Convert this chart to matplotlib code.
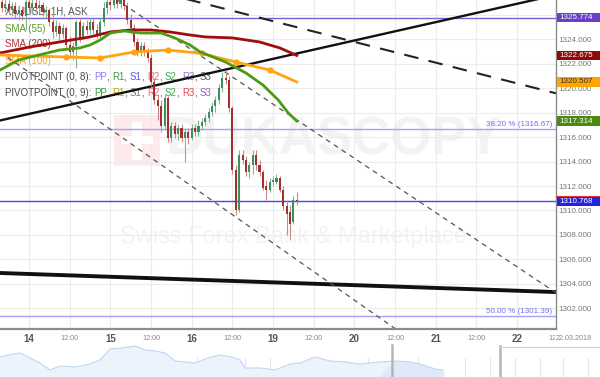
import numpy as np
import matplotlib.pyplot as plt
from matplotlib.patches import Rectangle
from matplotlib.transforms import blended_transform_factory

plt.rcParams['font.family'] = ['Liberation Sans', 'DejaVu Sans']

# hourly candles, x = hours counted from 14.03 00:00 (weekend removed)
hours = list(range(-8, 80))
opens = [1327.05, 1326.56, 1326.89, 1326.40, 1326.72, 1326.07, 1326.40, 1325.91, 1327.05, 1326.56,
         1326.97, 1326.56, 1326.80, 1326.23, 1326.40, 1325.41, 1324.60, 1325.09, 1324.43, 1324.92,
         1323.53, 1322.96, 1323.45, 1325.41, 1324.11, 1325.09, 1324.76, 1325.41, 1324.76, 1324.43,
         1325.41, 1326.56, 1327.05, 1326.80, 1327.21, 1326.89, 1327.21, 1326.72, 1325.58, 1324.92,
         1323.78, 1322.96, 1323.45, 1322.96, 1322.47, 1320.51, 1319.04, 1318.55, 1316.91, 1319.20,
         1315.93, 1316.91, 1316.26, 1316.75, 1315.93, 1316.42, 1315.93, 1316.75, 1316.42, 1316.91,
         1317.24, 1317.56, 1318.06, 1318.55, 1319.04, 1320.02, 1320.84, 1320.67, 1318.38, 1313.31,
         1310.04, 1314.54, 1314.13, 1313.15, 1313.72, 1314.54, 1313.72, 1313.15, 1312.00, 1311.68,
         1312.33, 1312.33, 1312.66, 1311.68, 1310.37, 1309.88, 1309.06, 1310.86]
closes = [1326.56, 1326.89, 1326.40, 1326.72, 1326.07, 1326.40, 1325.91, 1327.05, 1326.56, 1326.97,
          1326.56, 1326.80, 1326.23, 1326.40, 1325.41, 1324.60, 1325.09, 1324.43, 1324.92, 1323.53,
          1322.96, 1323.45, 1325.41, 1324.11, 1325.09, 1324.76, 1325.41, 1324.76, 1324.43, 1325.41,
          1326.56, 1327.05, 1326.80, 1327.21, 1326.89, 1327.21, 1326.72, 1325.58, 1324.92, 1323.78,
          1322.96, 1323.45, 1322.96, 1322.47, 1320.51, 1319.04, 1318.55, 1316.91, 1319.20, 1315.93,
          1316.91, 1316.26, 1316.75, 1315.93, 1316.42, 1315.93, 1316.75, 1316.42, 1316.91, 1317.24,
          1317.56, 1318.06, 1318.55, 1319.04, 1320.02, 1320.84, 1320.67, 1318.38, 1313.31, 1310.04,
          1314.54, 1314.13, 1313.15, 1313.72, 1314.54, 1313.72, 1313.15, 1311.84, 1311.68, 1312.33,
          1312.49, 1312.66, 1311.68, 1310.37, 1309.71, 1308.90, 1310.86, 1310.77]
highs = [1327.62, 1327.38, 1327.21, 1327.05, 1327.05, 1326.80, 1326.72, 1327.46, 1327.54, 1327.38,
         1327.54, 1327.21, 1327.05, 1326.72, 1326.56, 1326.23, 1325.58, 1325.41, 1325.25, 1325.09,
         1324.27, 1323.78, 1325.58, 1325.74, 1325.41, 1325.58, 1325.74, 1325.74, 1325.25, 1325.74,
         1327.05, 1327.62, 1327.54, 1327.70, 1327.62, 1327.54, 1327.54, 1327.05, 1326.07, 1325.25,
         1324.11, 1323.78, 1323.78, 1323.29, 1322.80, 1320.84, 1319.53, 1319.04, 1319.53, 1319.36,
         1317.24, 1317.24, 1317.07, 1317.07, 1316.75, 1316.75, 1317.07, 1317.07, 1317.40, 1317.56,
         1317.89, 1318.38, 1318.87, 1319.36, 1320.35, 1321.33, 1321.49, 1320.99, 1318.55, 1313.72,
         1314.95, 1314.95, 1314.46, 1313.97, 1314.95, 1314.95, 1314.13, 1313.31, 1312.49, 1312.66,
         1312.82, 1312.99, 1312.82, 1312.00, 1310.86, 1310.45, 1311.19, 1311.51]
lows = [1326.23, 1326.23, 1326.07, 1325.91, 1325.74, 1325.58, 1325.58, 1324.76, 1326.23, 1326.07,
        1326.23, 1326.23, 1325.91, 1325.74, 1325.09, 1324.11, 1324.27, 1323.94, 1324.11, 1323.12,
        1322.47, 1322.31, 1321.65, 1323.78, 1323.94, 1324.43, 1324.43, 1324.43, 1324.11, 1324.11,
        1325.09, 1326.07, 1326.40, 1326.56, 1326.56, 1326.56, 1326.40, 1325.25, 1324.43, 1323.45,
        1322.63, 1322.63, 1322.63, 1322.14, 1320.18, 1318.71, 1317.40, 1316.42, 1316.58, 1315.60,
        1315.60, 1315.93, 1315.77, 1315.60, 1313.97, 1315.44, 1315.77, 1316.09, 1316.09, 1316.58,
        1316.91, 1317.24, 1317.73, 1318.06, 1318.71, 1319.69, 1320.35, 1318.06, 1312.99, 1309.63,
        1309.88, 1313.80, 1312.82, 1312.66, 1312.99, 1313.31, 1312.82, 1311.68, 1310.86, 1311.51,
        1312.00, 1312.17, 1311.51, 1310.04, 1308.00, 1307.59, 1308.90, 1310.45]

# moving averages
sma55_h = [-8.5, -3, 3, 9, 15, 18, 21, 24, 28, 33, 39, 43, 47.5, 50.5, 58, 64, 69, 73.5, 76.5, 79]
sma55_v = [1321.49, 1322.31, 1322.72, 1323.12, 1323.29, 1323.53, 1323.94, 1324.51, 1324.68, 1324.51,
           1324.51, 1324.11, 1323.53, 1322.96, 1322.14, 1321.24, 1320.26, 1319.04, 1317.97, 1317.314]
sma200_h = [-8.5, 0.3, 9, 18, 24, 30, 36, 41.5, 47.5, 52, 60, 68, 74, 79]
sma200_v = [1322.88, 1323.37, 1323.78, 1324.19, 1324.60, 1324.76, 1324.76, 1324.60, 1324.35, 1324.19,
            1324.11, 1323.78, 1323.29, 1322.675]
sma100_h = [-8.5, 1, 11, 21, 31, 41, 51, 61, 71, 79]
sma100_v = [1322.72, 1322.63, 1322.55, 1322.47, 1322.96, 1323.12, 1322.84, 1322.14, 1321.49, 1320.507]

# drawn lines (start/end)
trend_up_h, trend_up_v = [-8.55, 155.46], [1317.36, 1327.62]
dash_top_h, dash_top_v = [41.6, 155.46], [1327.63, 1319.58]
chan_a_h, chan_a_v = [24, 155.46], [1327.57, 1303.27]
chan_b_h, chan_b_v = [-8.55, 109.4], [1322.96, 1300.07]
support_h, support_v = [-8.55, 155.46], [1304.89, 1303.33]

level_top = 1325.774
fib382 = 1316.67
fib50 = 1301.39
last_price = 1310.768

day_pos = [0, 24, 48, 72, 96, 120, 144]
day_labels = ['14', '15', '16', '19', '20', '21', '22']
half_pos = [12, 36, 60, 84, 108, 132]

# navigator strip
nav_pos = [0, 8, 20, 30, 40, 50, 60, 75, 90, 100, 110, 122, 135, 145, 155, 165, 175, 185, 195,
           208, 220, 232, 240, 245, 260, 275, 290, 300, 315, 330, 345, 360, 380, 395, 410, 420, 435, 443]
nav_level = [20, 22, 24, 19, 14, 7, 11, 10, 13, 17, 28, 29, 31, 27, 26, 24, 16, 15, 14,
             19, 22, 20, 17, 9, 9, 7, 13, 14, 20, 16, 15, 13, 15, 16, 15, 13, 8, 7]

fig = plt.figure(figsize=(6, 3.77), dpi=100)
ax = fig.add_axes([0, 48 / 377, 556 / 600, 329 / 377])
ax.set_xlim(-8.55, 155.46)
ax.set_ylim(1300.31, 1327.21)

# grid / axes
ax.set_yticks(np.arange(1302, 1325, 2))
ax.yaxis.tick_right()
ax.yaxis.set_major_formatter(plt.FormatStrFormatter('%.3f'))
ax.tick_params(axis='y', length=0, pad=1.5, labelsize=5.8, labelcolor='#777777')
ax.set_xticks(day_pos)
ax.set_xticklabels(day_labels, fontweight='bold')
ax.set_xticks(half_pos, minor=True)
ax.set_xticklabels(['12:00'] * len(half_pos), minor=True)
ax.tick_params(axis='x', which='major', length=0, pad=3.5, labelsize=7, labelcolor='#555555')
ax.tick_params(axis='x', which='minor', length=0, pad=4.3, labelsize=5.2, labelcolor='#888888')
ax.grid(True, which='both', color='#ececec', lw=0.8, zorder=0)
ax.axhline(1326, color='#ececec', lw=0.8, zorder=0)
ax.set_axisbelow(True)
for s in ['top', 'left']:
    ax.spines[s].set_visible(False)
ax.spines['right'].set_color('#8c8c8c')
ax.spines['right'].set_linewidth(1)
ax.spines['bottom'].set_color('#8c8c8c')
ax.spines['bottom'].set_linewidth(1.6)

# watermark
ax.add_patch(Rectangle((0.205, 0.495), 0.083, 0.155, transform=ax.transAxes,
                       fc='#fdeaea', ec='none', zorder=0.5))
ax.add_patch(Rectangle((0.238, 0.515), 0.017, 0.115, transform=ax.transAxes,
                       fc='white', ec='none', zorder=0.6))
ax.add_patch(Rectangle((0.218, 0.562), 0.057, 0.025, transform=ax.transAxes,
                       fc='white', ec='none', zorder=0.6))
ax.text(0.297, 0.572, 'DUKASCOPY', transform=ax.transAxes, fontsize=38, fontweight='bold',
        color='#f3f3f3', va='center', ha='left', zorder=0.5)
ax.text(0.527, 0.28, 'Swiss Forex Bank & Marketplace', transform=ax.transAxes, fontsize=17,
        color='#f3f3f3', va='center', ha='center', zorder=0.5)

# legend text, built piece by piece
renderer = fig.canvas.get_renderer()


def text_width(s, size):
    a = ax.text(0, 0, s + '|', fontsize=size)
    b = ax.text(0, 0, '|', fontsize=size)
    w = a.get_window_extent(renderer).width - b.get_window_extent(renderer).width
    a.remove()
    b.remove()
    return w


def colored_line(y_px, parts, size=7):
    x = 5 / 556
    for s, c in parts:
        ax.text(x, 1 - y_px / 329, s, transform=ax.transAxes, fontsize=size, color=c,
                va='center', ha='left', zorder=1)
        x += text_width(s, size) / ax.bbox.width


gray = '#4a4a4a'
colored_line(12, [('XAUUSD, 1H, ASK', '#555555')])
colored_line(29, [('SMA (55)', '#5a9a22')])
colored_line(44, [('SMA (200)', '#b03030')])
colored_line(61, [('SMA (100)', '#f5a623')])
colored_line(77, [('PIVOTPOINT (0, 8): ', gray), ('PP', '#9d7cf0'), (', ', gray), ('R1', '#3f9a3f'),
                  (', ', gray), ('S1', '#5555f0'), (', ', gray), ('R2', '#f06a8a'), (', ', gray),
                  ('S2', '#3fb04f'), (', ', gray), ('R3', '#9a6fc8'), (', ', gray), ('S3', '#555555')])
colored_line(93, [('PIVOTPOINT (0, 9): ', gray), ('PP', '#3f9a3f'), (', ', gray), ('R1', '#c9a010'),
                  (', ', gray), ('S1', '#7a7a7a'), (', ', gray), ('R2', '#f06a8a'), (', ', gray),
                  ('S2', '#3fb04f'), (', ', gray), ('R3', '#e84858'), (', ', gray), ('S3', '#9a5fc0')])

# horizontal levels
ax.axhline(level_top, color='#7f5fd6', lw=1, zorder=1.5)
ax.axhline(fib382, color='#a3a3f5', lw=1, zorder=1.5)
ax.axhline(fib50, color='#a3a3f5', lw=1, zorder=1.5)
ax.axhline(last_price, color='#3b3bf0', lw=1, zorder=1.6)
ax.axhline(last_price + 0.03, color='#e04040', lw=0.7, ls=(0, (1, 1.5)), zorder=1.7)
bt = blended_transform_factory(ax.transAxes, ax.transData)
ax.text(552 / 556, fib382 + 0.08, '38.20 % (1316.67)', transform=bt,
        fontsize=5.8, color='#7070ee', ha='right', va='bottom', zorder=1.5)
ax.text(552 / 556, fib50 + 0.08, '50.00 % (1301.39)', transform=bt,
        fontsize=5.8, color='#7070ee', ha='right', va='bottom', zorder=1.5)

# trend lines
ax.plot(trend_up_h, trend_up_v, color='#111111', lw=1.7, zorder=2)
ax.plot(support_h, support_v, color='#111111', lw=2.8, zorder=2)
ax.plot(dash_top_h, dash_top_v, color='#222222', lw=1.5, ls=(0, (7, 5)), zorder=2)
ax.plot(chan_a_h, chan_a_v, color='#555555', lw=0.9, ls=(0, (4, 3.5)), zorder=2)
ax.plot(chan_b_h, chan_b_v, color='#555555', lw=0.9, ls=(0, (4, 3.5)), zorder=2)

# candles
o = np.array(opens)
c = np.array(closes)
up = c >= o
body_col = np.where(up, '#3f8f5c', '#a3302c')
wick_col = np.where(up, '#84b495', '#c98a88')
ax.vlines(hours, lows, highs, colors=wick_col, lw=0.8, zorder=2.9)
ax.bar(hours, np.maximum(np.abs(c - o), 0.06), bottom=np.minimum(o, c), width=0.62,
       color=body_col, zorder=3)

# moving averages
ax.plot(sma200_h, sma200_v, color='#a00d0d', lw=2, zorder=4)
ax.plot(sma100_h, sma100_v, color='#ffa514', lw=2, zorder=4, marker='o', ms=3.5,
        markevery=[2, 3, 4, 5, 6, 7, 8])
ax.plot(sma55_h, sma55_v, color='#4f9a14', lw=2, zorder=4)

# value boxes on the price scale
boxes = [(level_top, '#6a3fc8', 'white'), (1322.675, '#8b0a0a', 'white'),
         (1320.507, '#ffa500', '#333333'), (1317.314, '#4a8a10', 'white'),
         (last_price, '#2424e0', 'white')]
for v, fc, tc in boxes:
    ax.add_patch(Rectangle((1.0 + 1 / 556, v - 0.4), 43 / 556, 0.8, transform=bt, fc=fc,
                           ec='none', clip_on=False, zorder=6))
    ax.text(1.0 + 3 / 556, v, f'{v:.3f}', transform=bt, fontsize=5.8, color=tc,
            va='center', ha='left', zorder=7, clip_on=False)
ax.plot([1.0, 1.0 + 44 / 556], [last_price + 0.42] * 2, transform=bt, color='#e03030',
        lw=0.8, clip_on=False, zorder=7)

ax.text(156, -9 / 329, '12:00', transform=blended_transform_factory(ax.transData, ax.transAxes),
        fontsize=5.2, color='#888888', ha='center', va='center', clip_on=False)
fig.text(574 / 600, 1 - 338 / 377, '22.03.2018', fontsize=5.2, color='#888888', ha='center',
         va='center', bbox=dict(fc='white', ec='none', pad=0.6))

# navigator
nav = fig.add_axes([0, 0, 1, 34 / 377])
nav.set_xlim(0, 600)
nav.set_ylim(0, 34)
nav.axis('off')
for xv in [27, 100, 123, 172, 197, 245, 270, 318, 368, 418, 465, 490, 515, 540, 563, 588]:
    nav.axvline(xv, ymax=0.55, color='#e6e6e6', lw=0.8, zorder=0)
npos = np.array(nav_pos)
nlev = np.array(nav_level)
nav.fill_between(npos, 0, nlev, color='#edf3fd', zorder=1)
nav.fill_between(npos, 0, nlev, where=npos >= 392, interpolate=True, color='#dfe9fa', zorder=1.1)
nav.plot(npos, nlev, color='#c3d7f3', lw=0.8, zorder=2)
nav.axvline(392, ymax=0.95, color='#b5b5b5', lw=1.8, zorder=3)
nav.axvline(500, ymax=0.9, color='#b5b5b5', lw=1.8, zorder=3)
nav.plot([500, 600], [30.5, 30.5], color='#d0d0d0', lw=0.8, zorder=3)

fig.savefig('out.png', dpi=100)
